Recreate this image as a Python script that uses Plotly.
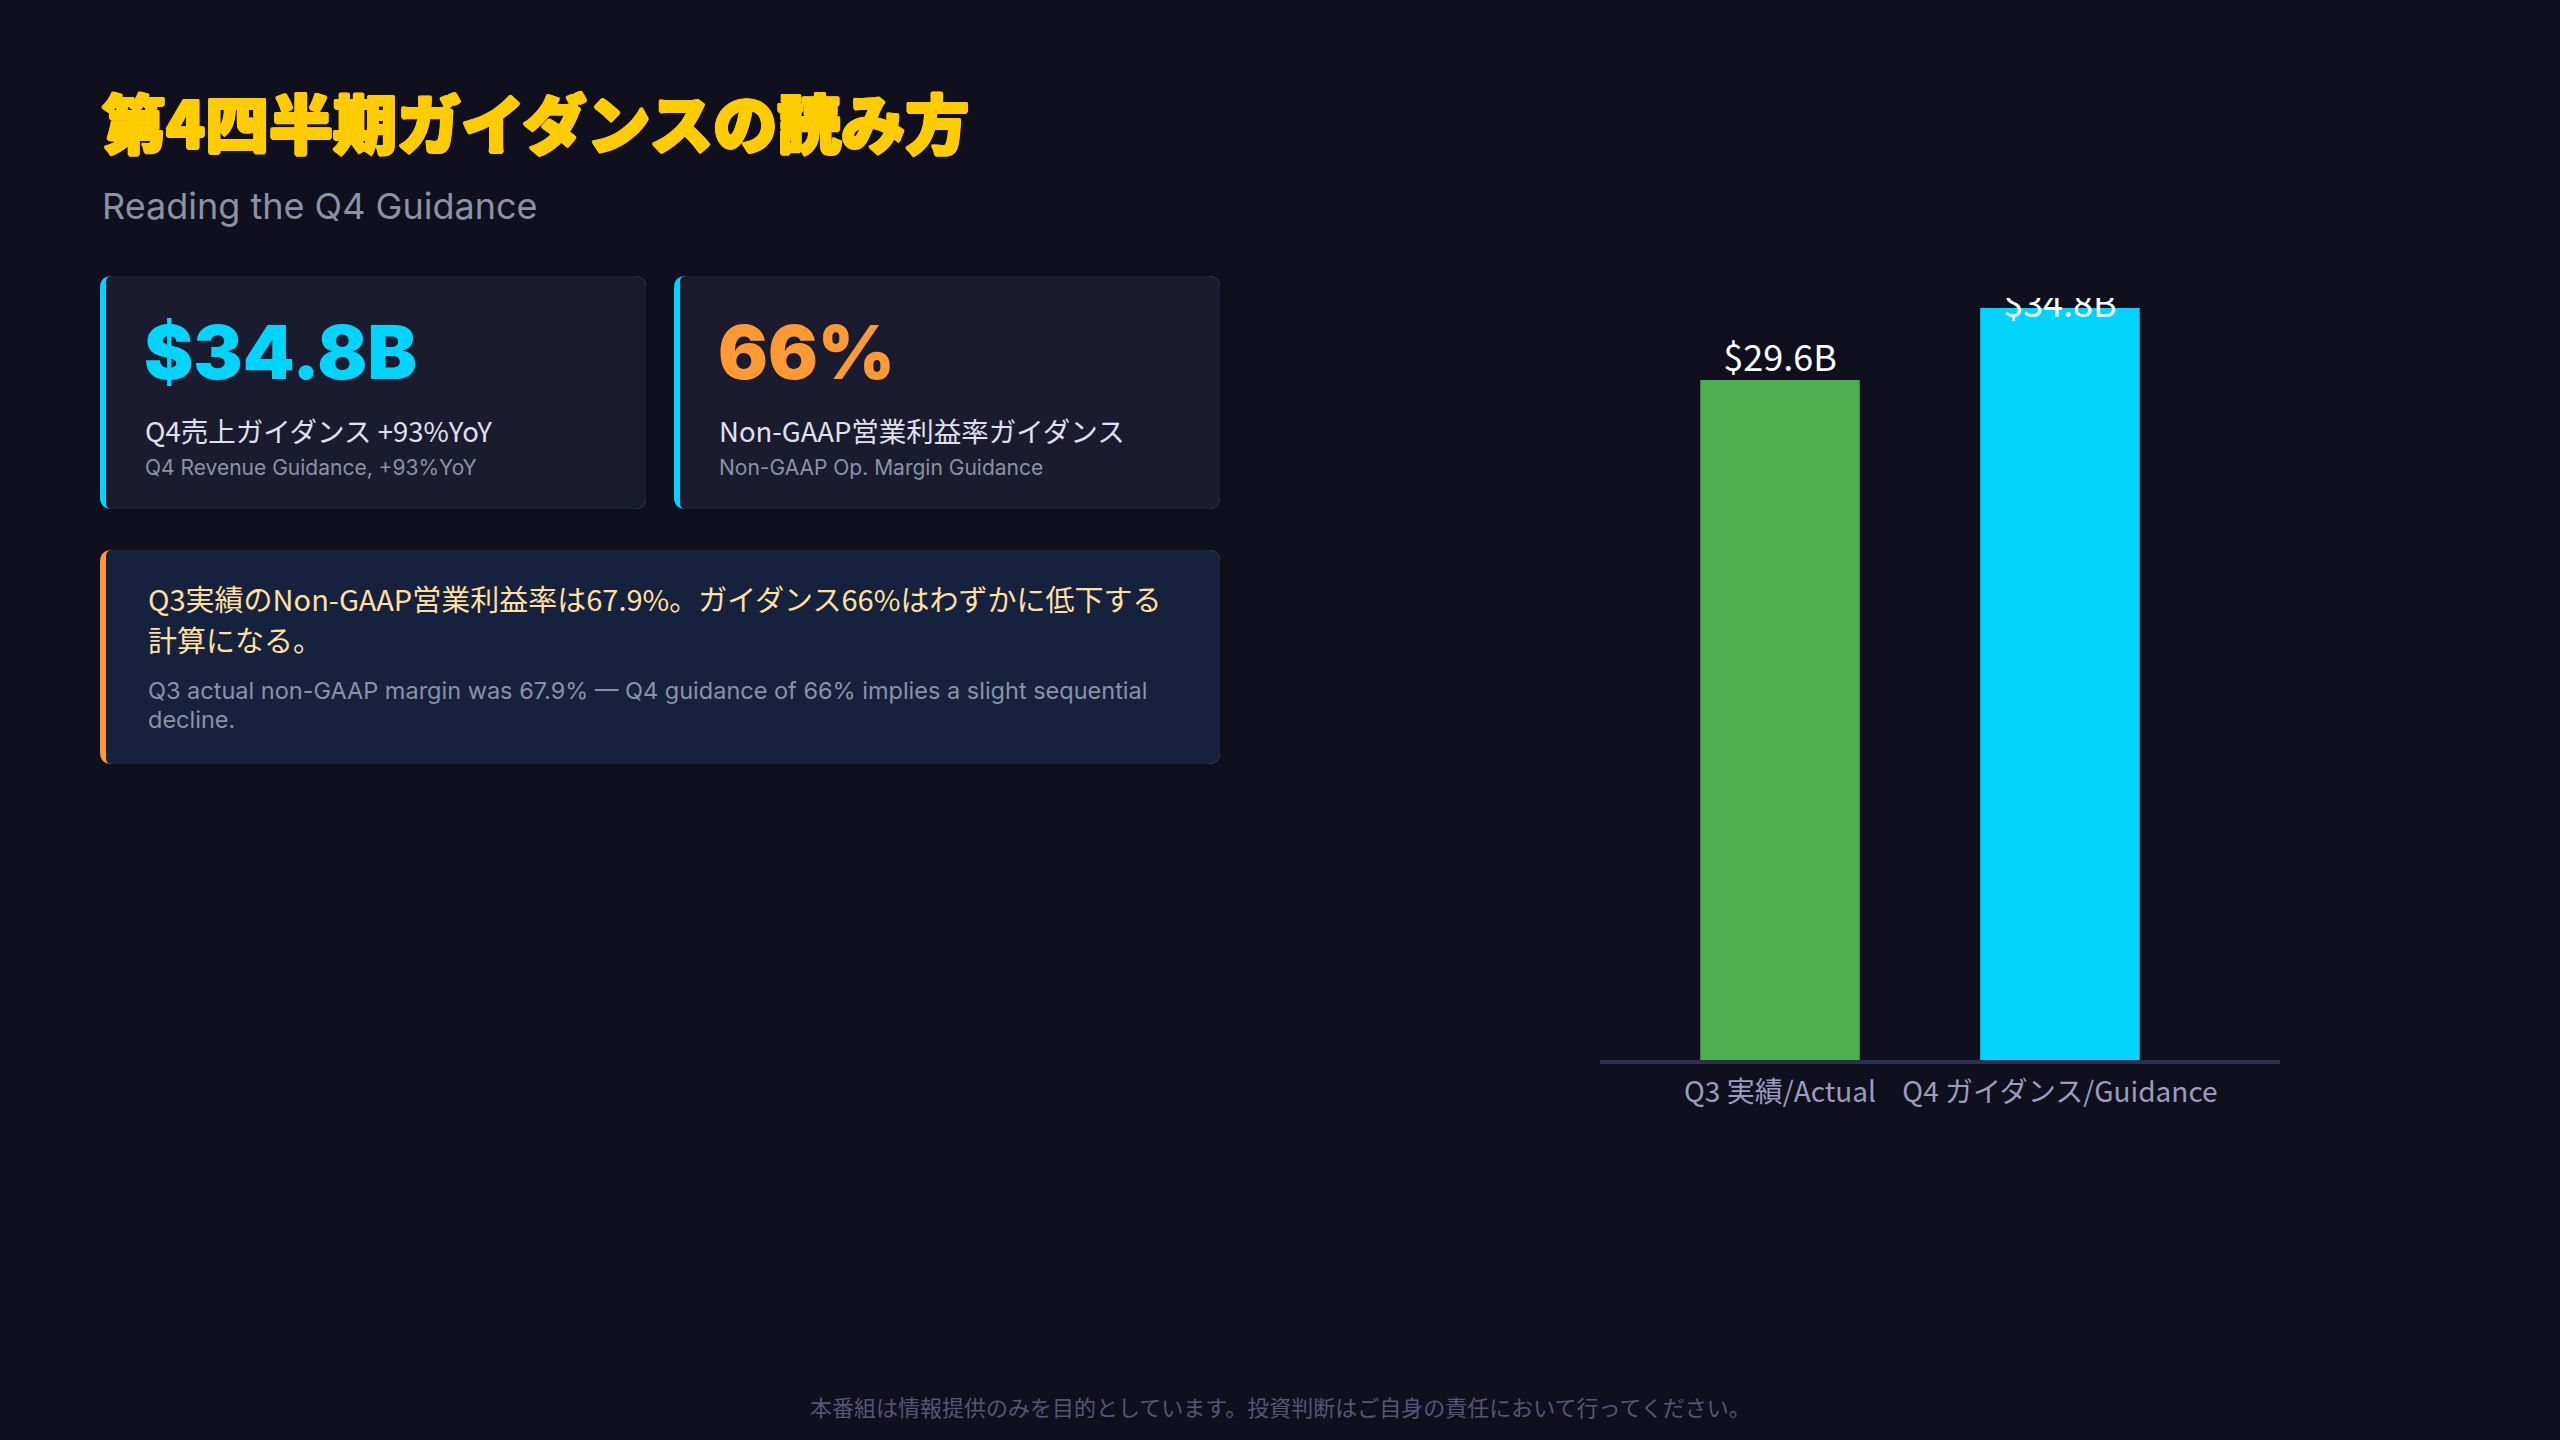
import plotly.graph_objects as go

# canvas
W, H = 2560, 1440
BG = "#0f0f1e"

# data
categories = ["Q3 実績/Actual", "Q4 ガイダンス/Guidance"]
revenue = [29.6, 34.8]
bar_labels = ["$29.6B", "$34.8B"]
bar_colors = ["#4caf50", "#00d4ff"]
y_max = 32.73  # axis top, Q4 bar runs past it

title_jp = "第4四半期ガイダンスの読み方"
title_en = "Reading the Q4 Guidance"

kpi_values = ["$34.8B", "66%"]
kpi_colors = ["#00d4ff", "#ff9933"]
kpi_jp = ["Q4売上ガイダンス +93%YoY", "Non-GAAP営業利益率ガイダンス"]
kpi_en = ["Q4 Revenue Guidance, +93%YoY", "Non-GAAP Op. Margin Guidance"]

note_jp = ["Q3実績のNon-GAAP営業利益率は67.9%。ガイダンス66%はわずかに低下する", "計算になる。"]
note_en = ["Q3 actual non-GAAP margin was 67.9% — Q4 guidance of 66% implies a slight sequential", "decline."]

footer = "本番組は情報提供のみを目的としています。投資判断はご自身の責任において行ってください。"

JP = "Noto Sans CJK JP"
EN = "Inter"


def px(x):
    return x / W


def py(y):
    return 1 - y / H


def rrect(x0, y0, x1, y1, r, rl=None):
    # rounded rectangle path in paper coords (pixel input)
    if rl is None:
        rl = r
    p = "M {},{} ".format(px(x0 + rl), py(y0))
    p += "L {},{} ".format(px(x1 - r), py(y0))
    p += "Q {},{} {},{} ".format(px(x1), py(y0), px(x1), py(y0 + r))
    p += "L {},{} ".format(px(x1), py(y1 - r))
    p += "Q {},{} {},{} ".format(px(x1), py(y1), px(x1 - r), py(y1))
    p += "L {},{} ".format(px(x0 + rl), py(y1))
    p += "Q {},{} {},{} ".format(px(x0), py(y1), px(x0), py(y1 - rl))
    p += "L {},{} ".format(px(x0), py(y0 + rl))
    p += "Q {},{} {},{} Z".format(px(x0), py(y0), px(x0 + rl), py(y0))
    return p


fig = go.Figure()

fig.add_trace(go.Bar(
    x=categories, y=revenue,
    marker=dict(color=bar_colors, line=dict(width=0)),
    width=0.57,
    cliponaxis=True,
    hoverinfo="skip",
))

# value labels - the one for the clipped bar sits on the axis top edge
label_y = [min(v, y_max) for v in revenue]
label_pos = ["top center" if v <= y_max else "middle center" for v in revenue]
fig.add_trace(go.Scatter(
    x=categories, y=label_y, mode="text",
    text=bar_labels, textposition=label_pos,
    textfont=dict(family=JP, size=36, color="#ffffff"),
    cliponaxis=False, hoverinfo="skip",
))

shapes = []
annotations = []


def add_card(x0, y0, x1, y1, fill, accent):
    shapes.append(dict(type="path", path=rrect(x0, y0, x1, y1, 12), xref="paper", yref="paper",
                       fillcolor=accent, line=dict(width=0), layer="below"))
    shapes.append(dict(type="path", path=rrect(x0 + 6, y0, x1, y1, 12, rl=6), xref="paper", yref="paper",
                       fillcolor=fill, line=dict(width=0), layer="below"))


def add_text(x, y, text, size, color, family, weight=None, xanchor="left", shadow=None):
    f = dict(family=family, size=size, color=color)
    if weight:
        f["weight"] = weight
    if shadow:
        f["shadow"] = shadow
    annotations.append(dict(x=px(x), y=py(y), xref="paper", yref="paper", text=text, showarrow=False,
                            xanchor=xanchor, yanchor="middle", font=f))


# header - extra shadow to make the title look heavier
thick = "1.5px 0 0 #ffcc00, -1.5px 0 0 #ffcc00, 0 1.5px 0 #ffcc00, 0 -1.5px 0 #ffcc00, 1px 1px 0 #ffcc00, -1px -1px 0 #ffcc00, 1px -1px 0 #ffcc00, -1px 1px 0 #ffcc00"
add_text(100, 120, title_jp, 64, "#ffcc00", JP, weight=900, shadow=thick)
add_text(100, 206, title_en, 36, "#8a93a6", EN)

# KPI cards
card_x = [100, 674]
for i in range(2):
    x0 = card_x[i]
    add_card(x0, 276, x0 + 546, 509, "#1a1b2e", "#00d4ff")
    add_text(x0 + 42, 352, kpi_values[i], 74, kpi_colors[i], EN, weight=900)
    add_text(x0 + 43, 430, kpi_jp[i], 27.5, "#e0e0ee", JP)
    add_text(x0 + 43, 467, kpi_en[i], 21, "#8a93a6", EN)

# note box
add_card(100, 550, 1220, 764, "#16213e", "#ff9933")
add_text(146, 598, note_jp[0], 29, "#ffe0a0", JP)
add_text(146, 639, note_jp[1], 29, "#ffe0a0", JP)
add_text(146, 690, note_en[0], 23.5, "#8a93a6", EN)
add_text(146, 719, note_en[1], 23.5, "#8a93a6", EN)

# footer
add_text(1280, 1406, footer, 22, "#55557a", JP, xanchor="center")

# chart container edge: anything above it is cut off
shapes.append(dict(type="rect", xref="paper", yref="paper", x0=px(1560), x1=px(2320), y0=py(298), y1=py(200),
                   fillcolor=BG, line=dict(width=0), layer="above"))

fig.update_layout(
    width=W, height=H,
    margin=dict(l=0, r=0, t=0, b=0),
    paper_bgcolor=BG, plot_bgcolor=BG,
    showlegend=False,
    shapes=shapes, annotations=annotations,
    xaxis=dict(domain=[px(1600), px(2280)], range=[-0.643, 1.786],
               showgrid=False, zeroline=False, showline=True, linecolor="#2f2f4f", linewidth=4,
               ticks="", ticklabelstandoff=4,
               tickfont=dict(family=JP, size=28, color="#9c9cc0"), fixedrange=True),
    yaxis=dict(domain=[1 - 1060 / H, 1 - 308 / H], range=[0, y_max],
               showgrid=False, zeroline=False, showline=False, showticklabels=False, fixedrange=True),
)

fig.write_html("out.html", config={"displayModeBar": False},
               post_script="document.body.style.margin='0';document.body.style.overflow='hidden';")
